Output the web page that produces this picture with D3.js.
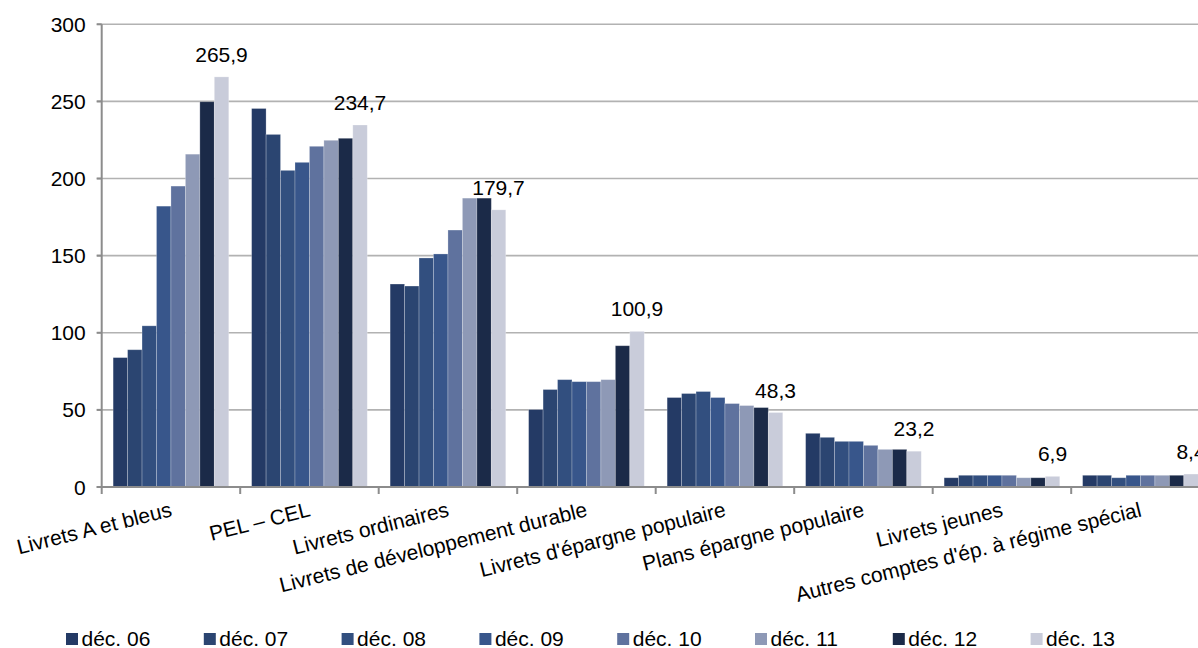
<!DOCTYPE html>
<html>
<head>
<meta charset="utf-8">
<script src="https://cdn.jsdelivr.net/npm/d3@7"></script>
<style>
  body { margin: 0; background: #fff; }
  svg { display: block; font-family: "Liberation Sans", Arial, sans-serif; }
</style>
</head>
<body>
<svg width="1198" height="648"></svg>
<script>
const categories = [
  "Livrets A et bleus",
  "PEL \u2013 CEL",
  "Livrets ordinaires",
  "Livrets de développement durable",
  "Livrets d'épargne populaire",
  "Plans épargne populaire",
  "Livrets jeunes",
  "Autres comptes d'ép. à régime spécial"
];

const seriesNames = ["déc. 06", "déc. 07", "déc. 08", "déc. 09", "déc. 10", "déc. 11", "déc. 12", "déc. 13"];
const seriesColors = ["#243a65", "#2b4571", "#324f7f", "#38568b", "#5f729e", "#8e99b6", "#1b2a48", "#c9ccda"];

const dec06 = [83.9, 245.4, 131.6, 50.2, 58.0, 34.8, 6.0, 7.6];
const dec07 = [89.0, 228.6, 130.3, 63.2, 60.6, 32.2, 7.6, 7.6];
const dec08 = [104.5, 205.3, 148.5, 69.6, 61.9, 29.6, 7.6, 6.0];
const dec09 = [182.1, 210.5, 151.1, 68.3, 58.0, 29.6, 7.6, 7.6];
const dec10 = [195.1, 220.9, 166.6, 68.3, 54.1, 27.0, 7.6, 7.6];
const dec11 = [215.8, 224.8, 187.3, 69.6, 52.8, 24.4, 6.0, 7.6];
const dec12 = [249.8, 226.1, 187.3, 91.6, 51.5, 24.4, 6.0, 7.6];
const dec13 = [265.9, 234.7, 179.7, 100.9, 48.3, 23.2, 6.9, 8.4];

const seriesValues = [dec06, dec07, dec08, dec09, dec10, dec11, dec12, dec13];
const yTicks = [0, 50, 100, 150, 200, 250, 300];

const svg = d3.select("svg");
const plotLeft = 101.7, plotTop = 24.3, plotBottom = 487, plotRight = 1209.7;

const x0 = d3.scaleBand()
  .domain(categories)
  .range([plotLeft, plotRight])
  .paddingInner(0.165)
  .paddingOuter(0.0825);

const x1 = d3.scaleBand()
  .domain(seriesNames)
  .range([0, x0.bandwidth()]);

const y = d3.scaleLinear().domain([0, 300]).range([plotBottom, plotTop]);

// gridlines
svg.append("g")
  .selectAll("line")
  .data(yTicks.filter(d => d > 0))
  .join("line")
  .attr("x1", plotLeft - 5)
  .attr("x2", 1198)
  .attr("y1", d => y(d))
  .attr("y2", d => y(d))
  .attr("stroke", "#b2b2b2")
  .attr("stroke-width", 1.6);

// y tick labels
svg.append("g")
  .selectAll("text")
  .data(yTicks)
  .join("text")
  .attr("x", plotLeft - 16)
  .attr("y", d => y(d) + 7.5)
  .attr("text-anchor", "end")
  .attr("font-size", 21)
  .attr("fill", "#000")
  .text(d => d);

// bars
const rows = [];
categories.forEach((c, i) => {
  seriesNames.forEach((s, j) => {
    rows.push({ cat: c, series: s, value: seriesValues[j][i], j });
  });
});

svg.append("g")
  .selectAll("rect")
  .data(rows)
  .join("rect")
  .attr("x", d => x0(d.cat) + x1(d.series))
  .attr("y", d => y(d.value))
  .attr("width", x1.bandwidth())
  .attr("height", d => y(0) - y(d.value))
  .attr("fill", d => seriesColors[d.j])
  .attr("stroke", "rgba(255,255,255,0.3)")
  .attr("stroke-width", 0.8);

// axes lines
svg.append("line")
  .attr("x1", plotLeft).attr("x2", plotLeft)
  .attr("y1", plotTop).attr("y2", plotBottom)
  .attr("stroke", "#8c8c8c").attr("stroke-width", 2);

svg.append("line")
  .attr("x1", plotLeft - 5).attr("x2", 1198)
  .attr("y1", plotBottom).attr("y2", plotBottom)
  .attr("stroke", "#8c8c8c").attr("stroke-width", 2);

// y ticks
svg.append("g")
  .selectAll("line")
  .data(yTicks)
  .join("line")
  .attr("x1", plotLeft - 5).attr("x2", plotLeft)
  .attr("y1", d => y(d)).attr("y2", d => y(d))
  .attr("stroke", "#8c8c8c").attr("stroke-width", 2);

// x ticks at band boundaries
const step = x0.step();
svg.append("g")
  .selectAll("line")
  .data(d3.range(categories.length + 1))
  .join("line")
  .attr("x1", i => plotLeft + i * step).attr("x2", i => plotLeft + i * step)
  .attr("y1", plotBottom).attr("y2", plotBottom + 7)
  .attr("stroke", "#8c8c8c").attr("stroke-width", 2);

// category labels
svg.append("g")
  .selectAll("text")
  .data(categories)
  .join("text")
  .attr("transform", d => `translate(${x0(d) + x0.bandwidth() / 2 + 2},${plotBottom + 29}) rotate(-14)`)
  .attr("text-anchor", "end")
  .attr("font-size", 21)
  .attr("fill", "#000")
  .text(d => d);

// value labels on last series
const fmt = v => v.toFixed(1).replace(".", ",");
const last = seriesNames[seriesNames.length - 1];
svg.append("g")
  .selectAll("text")
  .data(categories)
  .join("text")
  .attr("x", d => x0(d) + x1(last) + x1.bandwidth() / 2)
  .attr("y", (d, i) => y(dec13[i]) - 15)
  .attr("text-anchor", "middle")
  .attr("font-size", 21)
  .attr("fill", "#000")
  .text((d, i) => fmt(dec13[i]));

// legend
const legend = svg.append("g")
  .selectAll("g")
  .data(seriesNames)
  .join("g")
  .attr("transform", (d, i) => `translate(${66 + i * 137.8},633)`);

legend.append("rect")
  .attr("width", 12).attr("height", 12)
  .attr("fill", (d, i) => seriesColors[i]);

legend.append("text")
  .attr("x", 15.5).attr("y", 13)
  .attr("font-size", 21)
  .attr("fill", "#000")
  .text(d => d);
</script>
</body>
</html>
